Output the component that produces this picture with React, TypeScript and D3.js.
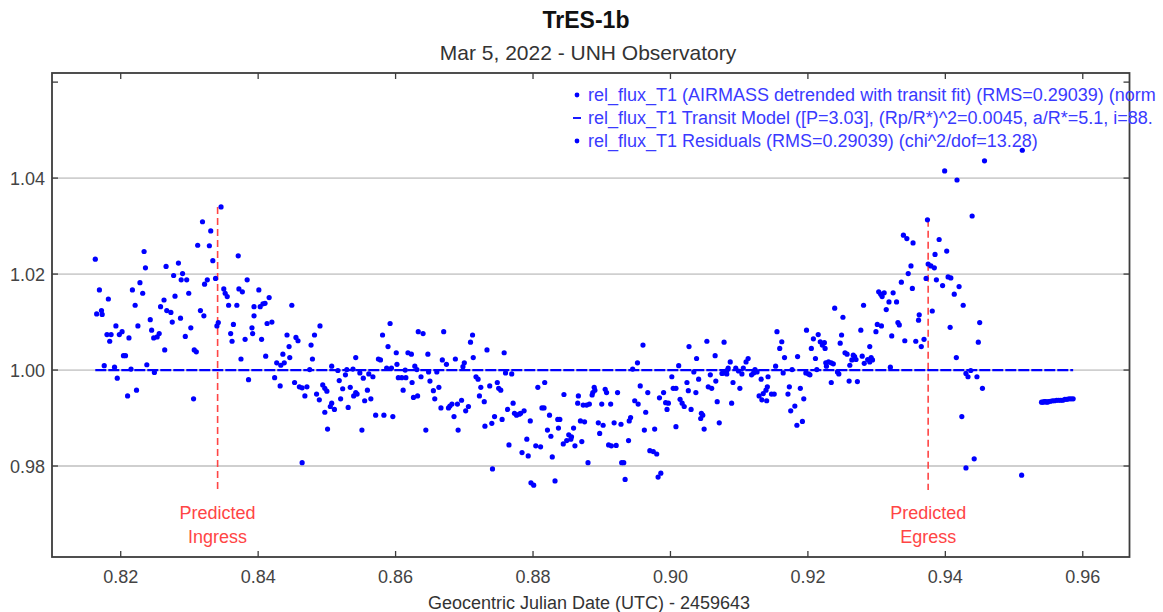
import React from "react";
import * as d3 from "d3";

// Detrended relative flux of the target star: [GJD - 2459643, rel_flux_T1]
const observations: [number, number][] = [
  [0.8163, 1.0231], [0.8346, 1.034], [0.8319, 1.0309], [0.8331, 1.029], [0.8312, 1.026], [0.8329, 1.0259],
  [0.8234, 1.0247], [0.8334, 1.0228], [0.8371, 1.0238], [0.8236, 1.0213], [0.8266, 1.0216], [0.8284, 1.0223],
  [0.8277, 1.0197], [0.829, 1.0201], [0.8288, 1.0188], [0.8296, 1.0188], [0.8338, 1.0191], [0.8326, 1.0188],
  [0.8322, 1.0179], [0.8384, 1.0188], [0.8169, 1.0167], [0.8228, 1.0182], [0.8217, 1.0167], [0.8232, 1.016],
  [0.8182, 1.0148], [0.8279, 1.0154], [0.8263, 1.0146], [0.8299, 1.016], [0.835, 1.0169], [0.8352, 1.016],
  [0.8355, 1.0153], [0.8372, 1.0169], [0.8377, 1.0163], [0.8221, 1.0135], [0.8258, 1.0132], [0.8267, 1.0124],
  [0.8273, 1.012], [0.8357, 1.0135], [0.8369, 1.0135], [0.8394, 1.0132], [0.8165, 1.0117], [0.8172, 1.0124],
  [0.8173, 1.0116], [0.8316, 1.0124], [0.8321, 1.0113], [0.8243, 1.0105], [0.8275, 1.01], [0.8287, 1.0108],
  [0.8342, 1.0099], [0.834, 1.0092], [0.8364, 1.0095], [0.8394, 1.0113], [0.8193, 1.0092], [0.818, 1.0074],
  [0.8186, 1.0074], [0.8198, 1.0074], [0.8202, 1.008], [0.8212, 1.0067], [0.8225, 1.0092], [0.8245, 1.0083],
  [0.8256, 1.0076], [0.8248, 1.0067], [0.8253, 1.0069], [0.8294, 1.007], [0.8302, 1.0088], [0.836, 1.0076],
  [0.8362, 1.006], [0.8381, 1.0064], [0.8391, 1.0088], [0.8392, 1.0076], [0.8184, 1.006], [0.8264, 1.0042],
  [0.8307, 1.0042], [0.831, 1.0038], [0.8204, 1.003], [0.8207, 1.003], [0.8375, 1.0023], [0.8176, 1.0009],
  [0.8191, 1.0006], [0.8215, 1.0002], [0.8238, 1.0011], [0.8249, 0.9995], [0.8195, 0.9983], [0.8223, 0.9958],
  [0.821, 0.9946], [0.8306, 0.994], [0.8386, 0.998],
  [0.8401, 1.0167], [0.8403, 1.0132], [0.8407, 1.0138], [0.841, 1.0139], [0.8416, 1.0151], [0.8405, 1.0064],
  [0.8413, 1.0097], [0.842, 1.01], [0.8449, 1.0135], [0.8411, 1.0029], [0.8427, 1.0015], [0.8433, 1.001],
  [0.8436, 1.0033], [0.8438, 1.0015], [0.8442, 1.0073], [0.8445, 1.0049], [0.8446, 1.0026], [0.8455, 1.0068],
  [0.8458, 1.0061], [0.8477, 1.0052], [0.8482, 1.0073], [0.849, 1.0092], [0.8479, 1.0023], [0.8475, 1.0001],
  [0.8424, 0.9984], [0.8432, 0.9967], [0.8453, 0.9974], [0.846, 0.9965], [0.8464, 0.9963], [0.8471, 0.9965],
  [0.8468, 0.9946], [0.8485, 0.995], [0.8489, 0.9938], [0.8507, 1.0008], [0.8494, 0.9969], [0.8497, 0.9962],
  [0.85, 0.9956], [0.8497, 0.9912], [0.8505, 0.9924], [0.8507, 0.9931], [0.8511, 0.9918], [0.8501, 0.9877],
  [0.8516, 0.9999], [0.8518, 0.9978], [0.8523, 0.9961], [0.852, 0.994], [0.8527, 0.999], [0.8529, 1.0001],
  [0.8538, 1.0002], [0.8531, 0.9922], [0.8534, 0.9964], [0.8542, 0.9953], [0.8539, 0.9946], [0.8544, 0.995],
  [0.8542, 1.0026], [0.8548, 0.9994], [0.8553, 0.9983], [0.8561, 0.9992], [0.8551, 0.9875], [0.8555, 0.9936],
  [0.8559, 0.9958], [0.8564, 0.994], [0.8567, 0.9986], [0.8575, 1.0023], [0.8578, 1.0021], [0.8571, 0.9906],
  [0.8583, 0.9906], [0.8596, 0.9903], [0.8581, 1.0073], [0.8589, 1.0049], [0.8592, 1.0097], [0.8587, 1.0004],
  [0.8594, 1.0004], [0.8601, 1.0036], [0.8602, 1.0012], [0.8604, 0.9984], [0.8609, 0.9984], [0.8615, 0.9984],
  [0.8611, 0.9958], [0.8614, 1.0], [0.8618, 1.0036], [0.8623, 1.0033], [0.8624, 0.9974], [0.8628, 1.0008],
  [0.8631, 1.0001], [0.8626, 0.9943], [0.8632, 0.9946], [0.8633, 1.008], [0.8464, 0.9807],
  [0.864, 1.0076], [0.867, 1.008], [0.8712, 1.0073], [0.8709, 1.0058], [0.8647, 1.0033], [0.8668, 1.0021],
  [0.8674, 1.0012], [0.8687, 1.0023], [0.87, 1.0015], [0.8698, 1.0007], [0.8733, 1.0042], [0.8758, 1.0036],
  [0.8713, 1.0026], [0.8648, 0.9996], [0.866, 0.9996], [0.8637, 0.9986], [0.865, 0.9977], [0.8655, 0.9957],
  [0.8657, 0.994], [0.8663, 0.9964], [0.8666, 0.9921], [0.8677, 0.9921], [0.8679, 0.9925], [0.8682, 0.9929],
  [0.869, 0.9929], [0.8696, 0.9937], [0.8685, 0.9903], [0.8702, 0.9915], [0.8706, 0.9924], [0.8644, 0.9875],
  [0.8691, 0.9875], [0.8717, 0.9986], [0.872, 0.9981], [0.8724, 0.9964], [0.8722, 0.9946], [0.8729, 0.9934],
  [0.8737, 0.9967], [0.8748, 0.9974], [0.875, 0.9962], [0.8753, 0.9958], [0.8744, 0.9903], [0.874, 0.9889],
  [0.873, 0.9883], [0.8755, 0.9897], [0.876, 0.9994], [0.8769, 0.9992], [0.8763, 0.9918], [0.8771, 0.9931],
  [0.8773, 0.991], [0.8776, 0.9906], [0.878, 0.9908], [0.8782, 0.991], [0.8787, 0.9915], [0.8796, 0.9894],
  [0.8765, 0.9844], [0.8784, 0.9828], [0.8793, 0.9821], [0.8791, 0.9856], [0.8804, 0.9842], [0.8811, 0.984],
  [0.8807, 0.9964], [0.8817, 0.9974], [0.8813, 0.9921], [0.8816, 0.9921], [0.8824, 0.9906], [0.8821, 0.9875],
  [0.8826, 0.9862], [0.8828, 0.9819], [0.8836, 0.9897], [0.8839, 0.9897], [0.8837, 0.9879], [0.8845, 0.9949],
  [0.8844, 0.9846], [0.8849, 0.9853], [0.8852, 0.9865], [0.8856, 0.9861], [0.8859, 0.9879], [0.8855, 0.9856],
  [0.8861, 0.9842], [0.8866, 0.9946], [0.8865, 0.9931], [0.8871, 0.9851], [0.8869, 0.9894], [0.8875, 0.9892],
  [0.8873, 0.9927], [0.8741, 0.9794], [0.8797, 0.9765], [0.8801, 0.976], [0.8832, 0.9769],
  [0.896, 1.0052], [0.8952, 1.0015], [0.8945, 1.0002], [0.8878, 0.9927], [0.8882, 0.9929], [0.8887, 0.9953],
  [0.889, 0.9958], [0.8889, 0.9964], [0.8886, 0.9948], [0.8905, 0.996], [0.8907, 0.9953], [0.89, 0.9929],
  [0.8913, 0.9929], [0.8923, 0.9953], [0.8895, 0.989], [0.8902, 0.9885], [0.8918, 0.989], [0.8928, 0.9887],
  [0.8897, 0.9868], [0.8942, 0.9901], [0.894, 0.9894], [0.8948, 0.9936], [0.8953, 0.9929], [0.8956, 0.9967],
  [0.8967, 0.9953], [0.8964, 0.9912], [0.891, 0.9844], [0.8914, 0.9842], [0.8921, 0.9843], [0.8939, 0.9853],
  [0.8962, 0.9875], [0.8977, 0.9877], [0.897, 0.9832], [0.8975, 0.983], [0.898, 0.9825], [0.888, 0.9807],
  [0.8929, 0.9807], [0.8932, 0.9807], [0.8934, 0.9772], [0.8982, 0.9777], [0.8986, 0.9785], [0.8984, 0.9942],
  [0.899, 0.9953], [0.8993, 0.9932], [0.8997, 0.9931], [0.8995, 0.9918], [0.9002, 0.9986], [0.9004, 0.9962],
  [0.9008, 0.9962], [0.9008, 0.9882], [0.9012, 1.0009], [0.9014, 0.9939], [0.9017, 0.9931], [0.902, 0.9924],
  [0.9024, 0.9974], [0.9026, 0.9957], [0.9027, 1.0049], [0.903, 0.9918], [0.9034, 0.9996], [0.9038, 1.0024],
  [0.9041, 0.9981], [0.9037, 0.9953], [0.9045, 0.991], [0.9044, 0.9899], [0.9047, 0.9906], [0.9049, 0.9877],
  [0.9053, 1.006], [0.9055, 0.9965], [0.906, 0.9962], [0.9058, 0.999], [0.9065, 1.003], [0.9066, 0.9977],
  [0.9068, 0.9934], [0.9071, 0.989], [0.9075, 0.9993], [0.9078, 0.9994], [0.9082, 0.9999], [0.9084, 1.0004],
  [0.9082, 0.9992], [0.9078, 1.0058], [0.9087, 1.0017], [0.9091, 0.9974], [0.9089, 0.9931], [0.9095, 1.0004],
  [0.9099, 0.9998], [0.9104, 0.9992], [0.9106, 1.0004], [0.9101, 0.9962], [0.911, 1.0017], [0.9113, 1.0024],
  [0.9123, 1.0001], [0.9121, 0.9994], [0.9126, 0.9996], [0.9118, 0.999], [0.9132, 0.9981], [0.9142, 0.9986],
  [0.9141, 0.9965], [0.9139, 0.9958], [0.9135, 0.9951], [0.9129, 0.9946], [0.9133, 0.9938], [0.914, 0.9936],
  [0.9147, 0.995], [0.9151, 0.995], [0.9153, 1.0008], [0.9155, 1.008], [0.9159, 1.0045], [0.9162, 1.0059],
  [0.9164, 0.9994], [0.9166, 1.0026], [0.9177, 1.0001], [0.9171, 0.995], [0.9173, 0.9965], [0.9175, 0.9915],
  [0.9181, 0.9925], [0.9184, 0.9885], [0.9192, 0.9893], [0.9185, 1.0028], [0.9189, 0.9962], [0.9194, 0.994],
  [0.9197, 0.9994], [0.9201, 0.9992], [0.9203, 0.999], [0.9198, 1.0083], [0.9205, 1.0045], [0.9208, 1.0065],
  [0.9211, 1.0024], [0.9215, 1.0074], [0.9218, 1.0059], [0.9221, 1.0052], [0.9224, 1.0057], [0.9225, 1.0045],
  [0.9213, 1.0001], [0.9226, 1.0015], [0.923, 1.0017], [0.9234, 1.0015], [0.9237, 1.0013], [0.9227, 1.0008],
  [0.9234, 0.9974], [0.9239, 1.0129], [0.9243, 0.9996], [0.9245, 0.9992], [0.9247, 1.0056], [0.9249, 1.0073],
  [0.9251, 1.011], [0.9254, 1.0036], [0.9257, 1.0033], [0.926, 0.9977], [0.9261, 1.001], [0.9264, 1.0021],
  [0.9268, 1.0028], [0.9266, 1.0031], [0.927, 1.0022], [0.9272, 0.9976], [0.9277, 1.0083], [0.9279, 1.0029],
  [0.9282, 1.0014], [0.9287, 1.0022], [0.9292, 1.0026], [0.9294, 1.0021], [0.929, 1.0017], [0.9281, 1.0135],
  [0.929, 1.0049], [0.9299, 1.008], [0.9301, 1.0095], [0.9307, 1.0092], [0.9303, 1.0163], [0.9306, 1.0158],
  [0.9308, 1.0153], [0.9311, 1.0161], [0.9314, 1.0126], [0.9318, 1.0142], [0.9322, 1.0071], [0.932, 1.0006],
  [0.9324, 1.0161], [0.9329, 1.0142], [0.9331, 1.0099], [0.9333, 1.0094], [0.9336, 1.0183], [0.9341, 1.0061],
  [0.9346, 1.0201], [0.9352, 1.017], [0.9339, 1.0281], [0.9344, 1.0274], [0.9353, 1.0265], [0.935, 1.0217],
  [0.9374, 1.0313], [0.9357, 1.006], [0.9365, 1.0049], [0.9369, 1.0064], [0.9362, 1.0115], [0.9361, 1.0104],
  [0.9381, 1.0123], [0.9372, 1.0191], [0.9375, 1.0221], [0.9379, 1.0217], [0.9384, 1.0213], [0.9385, 1.0241],
  [0.9391, 1.0272], [0.9387, 1.0188], [0.9396, 1.0176], [0.9402, 1.0248], [0.9404, 1.0194], [0.9408, 1.0192],
  [0.942, 1.0174], [0.9413, 1.0158], [0.9426, 1.0135], [0.9407, 1.0089], [0.945, 1.0099], [0.9448, 1.0058],
  [0.9416, 1.0026], [0.943, 0.9993], [0.9433, 0.9986], [0.9437, 0.9999], [0.9446, 0.9986], [0.9454, 0.9962],
  [0.9424, 0.9903], [0.943, 0.9796], [0.9442, 0.9815], [0.9399, 1.0415], [0.9417, 1.0396], [0.9439, 1.0321],
  [0.9457, 1.0436], [0.9512, 1.0458], [0.9511, 0.9781],
  [0.954, 0.9933], [0.9542, 0.9933], [0.9544, 0.9934], [0.9546, 0.9934], [0.9548, 0.9933], [0.955, 0.9934],
  [0.9553, 0.9935], [0.9556, 0.9936], [0.9559, 0.9936], [0.9562, 0.9937], [0.9565, 0.9937], [0.9568, 0.9937],
  [0.9571, 0.9937], [0.9574, 0.9939], [0.9577, 0.9939], [0.958, 0.994], [0.9583, 0.994], [0.9586, 0.994],
];

// Fitted transit model, drawn over the observed time span
const modelTime = [0.8163, 0.9586];
const modelFlux = [1.0, 1.0];

// Axes
const xDomain = [0.81, 0.9668];
const yDomain = [0.96104, 1.0619];
const xTicks = [0.82, 0.84, 0.86, 0.88, 0.9, 0.92, 0.94, 0.96];
const yTicks = [0.98, 1.0, 1.02, 1.04, 1.06];
const yLabelled = [0.98, 1.0, 1.02, 1.04];
const yGrid = [0.98, 1.0, 1.02, 1.04];

// Predicted ingress / egress markers
const markerNames = ["Ingress", "Egress"];
const markerTimes = [0.8341, 0.9375];
const markerTops = [1.034, 1.0313];
const markerBottom = 0.975;

// Legend
const legendLabels = [
  "rel_flux_T1 (AIRMASS detrended with transit fit) (RMS=0.29039) (norm",
  "rel_flux_T1 Transit Model ([P=3.03], (Rp/R*)^2=0.0045, a/R*=5.1, i=88.",
  "rel_flux_T1 Residuals (RMS=0.29039) (chi^2/dof=13.28)",
];
const legendSymbols = ["dot", "dash", "dot"];

const W = 1163;
const H = 612;
const M = { left: 52, right: 1129.5, top: 73, bottom: 557 };
const FONT = "'Liberation Sans', Arial, sans-serif";
const BLUE = "#0000ff";
const LEGEND_BLUE = "#3a3aff";
const RED = "#ff4545";
const FRAME = "#3c3c3c";

export default function App() {
  const x = d3.scaleLinear().domain(xDomain).range([M.left, M.right]);
  const y = d3.scaleLinear().domain(yDomain).range([M.bottom, M.top]);

  const modelPath = d3
    .line<number>()
    .x((_, i) => x(modelTime[i]))
    .y((_, i) => y(modelFlux[i]))(modelTime.map((_, i) => i));

  const tickLen = 6;

  return (
    <svg
      width={W}
      height={H}
      style={{ position: "absolute", left: 0, top: 0, background: "#fff" }}
      fontFamily={FONT}
    >
      <rect x={0} y={0} width={W} height={H} fill="#fff" />

      {/* titles */}
      <text x={586} y={28} textAnchor="middle" fontSize={23} fontWeight="bold" fill="#111">
        TrES-1b
      </text>
      <text x={588} y={60} textAnchor="middle" fontSize={21} fill="#333">
        Mar 5, 2022 - UNH Observatory
      </text>

      {/* horizontal grid */}
      {yGrid.map((v) => (
        <line key={`g${v}`} x1={M.left} x2={M.right} y1={y(v)} y2={y(v)} stroke="#cfcfcf" strokeWidth={1.8} />
      ))}

      {/* ticks on all four sides, pointing inward */}
      {xTicks.map((v) => (
        <g key={`xt${v}`} stroke={FRAME} strokeWidth={1.3}>
          <line x1={x(v)} x2={x(v)} y1={M.bottom} y2={M.bottom - tickLen} />
          <line x1={x(v)} x2={x(v)} y1={M.top} y2={M.top + tickLen} />
        </g>
      ))}
      {yTicks.map((v) => (
        <g key={`yt${v}`} stroke={FRAME} strokeWidth={1.3}>
          <line x1={M.left} x2={M.left + tickLen} y1={y(v)} y2={y(v)} />
          <line x1={M.right} x2={M.right - tickLen} y1={y(v)} y2={y(v)} />
        </g>
      ))}

      {/* tick labels */}
      {xTicks.map((v) => (
        <text key={`xl${v}`} x={x(v)} y={583} textAnchor="middle" fontSize={18} fill="#444">
          {v.toFixed(2)}
        </text>
      ))}
      {yLabelled.map((v) => (
        <text key={`yl${v}`} x={45} y={y(v) + 6.5} textAnchor="end" fontSize={18} fill="#444">
          {v.toFixed(2)}
        </text>
      ))}
      <text x={589} y={609} textAnchor="middle" fontSize={18} fill="#333">
        Geocentric Julian Date (UTC) - 2459643
      </text>

      {/* predicted ingress / egress */}
      {markerTimes.map((t, i) => (
        <g key={`m${i}`}>
          <line
            x1={x(t)}
            x2={x(t)}
            y1={y(markerTops[i])}
            y2={y(markerBottom)}
            stroke={RED}
            strokeWidth={1.6}
            strokeDasharray="7 4"
          />
          <text x={x(t)} y={519} textAnchor="middle" fontSize={18} fill={RED}>
            Predicted
          </text>
          <text x={x(t)} y={543} textAnchor="middle" fontSize={18} fill={RED}>
            {markerNames[i]}
          </text>
        </g>
      ))}

      {/* transit model */}
      <path d={modelPath ?? ""} fill="none" stroke={BLUE} strokeWidth={2.3} strokeDasharray="11 2" />

      {/* observations */}
      {observations.map(([t, f], i) => (
        <circle key={`p${i}`} cx={x(t)} cy={y(f)} r={2.6} fill={BLUE} />
      ))}

      {/* frame */}
      <rect
        x={M.left}
        y={M.top}
        width={M.right - M.left}
        height={M.bottom - M.top}
        fill="none"
        stroke={FRAME}
        strokeWidth={1.8}
      />

      {/* legend */}
      {legendLabels.map((label, i) => {
        const base = 101 + i * 23;
        return (
          <g key={`lg${i}`}>
            {legendSymbols[i] === "dot" ? (
              <circle cx={577} cy={base - 6} r={2.4} fill={BLUE} />
            ) : (
              <line x1={573} x2={581} y1={base - 6} y2={base - 6} stroke={BLUE} strokeWidth={1.8} />
            )}
            <text x={588} y={base} fontSize={18} fill={LEGEND_BLUE}>
              {label}
            </text>
          </g>
        );
      })}
    </svg>
  );
}
